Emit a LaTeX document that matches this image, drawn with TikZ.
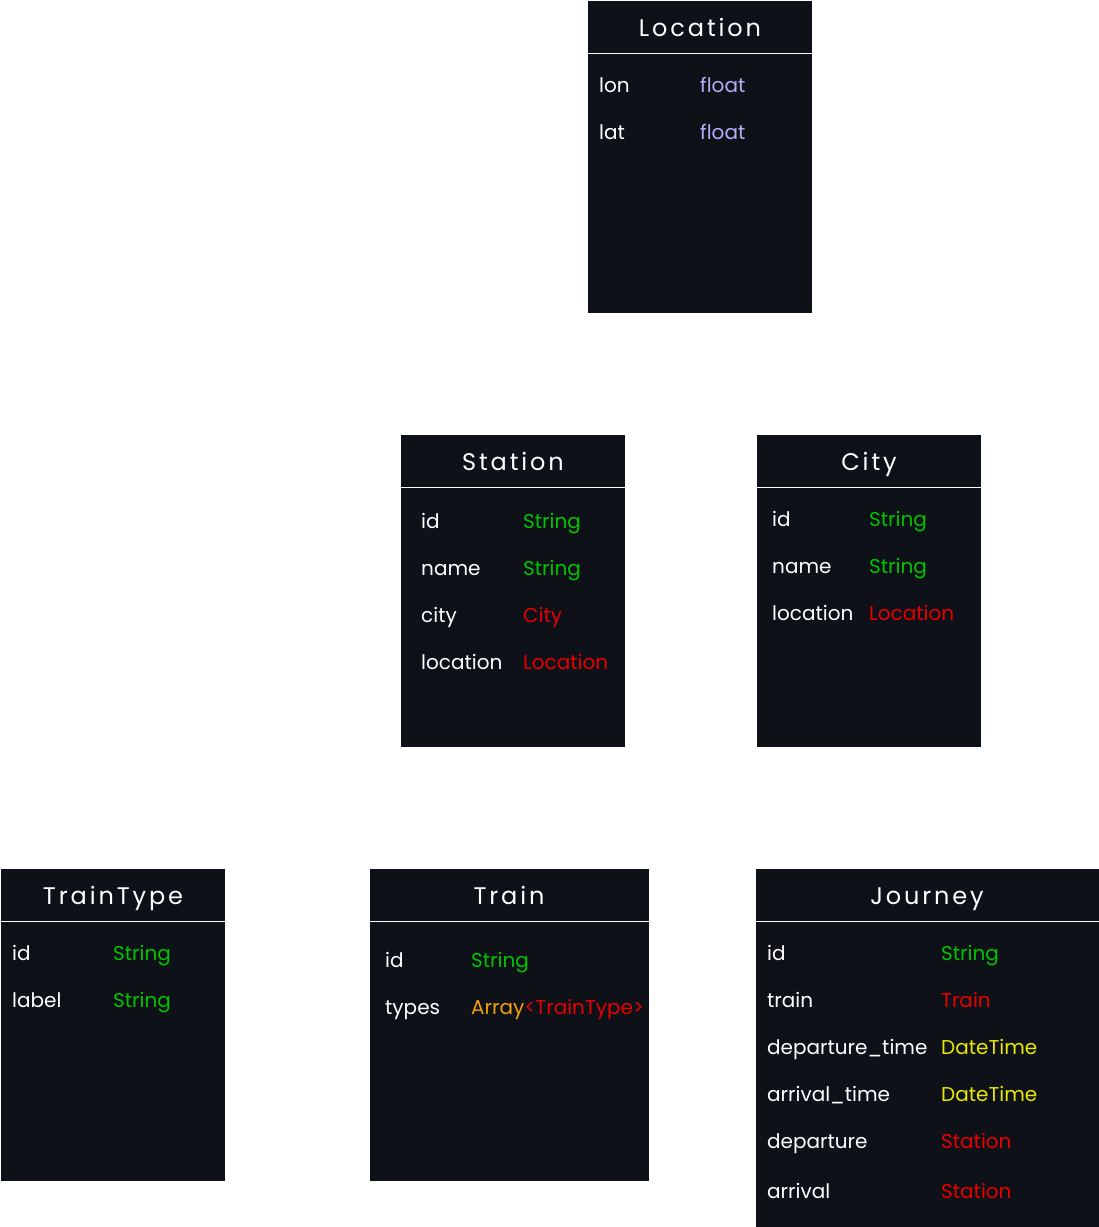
\documentclass[tikz,border=0pt]{standalone}
\usepackage{fontspec}
\setmainfont{Poppins}
\newfontfamily\titlefont[LetterSpace=12]{Poppins}
\definecolor{bg}{HTML}{0E1118}
\definecolor{strc}{HTML}{00C400}
\definecolor{refc}{HTML}{E80000}
\definecolor{fltc}{HTML}{B4ACF4}
\definecolor{datec}{HTML}{E8E800}
\definecolor{arrc}{HTML}{F4A000}
\begin{document}
\begin{tikzpicture}[x=1pt,y=-1pt,
  box/.style={fill=bg, draw=none, inner sep=0pt, outer sep=0pt, anchor=north west},
  ttl/.style={text=white, font=\titlefont\fontsize{24}{28}\selectfont, anchor=base, inner sep=0pt},
  fld/.style={text=white, font=\fontsize{20}{24}\selectfont, anchor=mid west, inner sep=0pt},
  typ/.style={fld, text=#1},
  sep/.style={draw=white, line width=1pt}]
\useasboundingbox (0,0) rectangle (1099,1227);
% Location
\node[box, minimum width=224pt, minimum height=312pt] (loc) at (588,1) {};
\node[ttl] (locT) at (700,36) {Location};
\draw[sep] (588,53) -- (812,53);
\node[fld] (locN1) at (599,90) {lon};   \node[typ=fltc] (locT1) at (700,90) {float};
\node[fld] (locN2) at (599,137) {lat};  \node[typ=fltc] (locT2) at (700,137) {float};
% Station
\node[box, minimum width=224pt, minimum height=312pt] (sta) at (401,435) {};
\node[ttl] (staT) at (513,470) {Station};
\draw[sep] (401,487) -- (625,487);
\node[fld] (staN1) at (421,526) {id};       \node[typ=strc] (staT1) at (523,526) {String};
\node[fld] (staN2) at (421,573) {name};     \node[typ=strc] (staT2) at (523,573) {String};
\node[fld] (staN3) at (421,620) {city};     \node[typ=refc] (staT3) at (523,620) {City};
\node[fld] (staN4) at (421,667) {location}; \node[typ=refc] (staT4) at (523,667) {Location};
% City
\node[box, minimum width=224pt, minimum height=312pt] (cty) at (757,435) {};
\node[ttl] (ctyT) at (869,470) {City};
\draw[sep] (757,487) -- (981,487);
\node[fld] (ctyN1) at (772,524) {id};       \node[typ=strc] (ctyT1) at (869,524) {String};
\node[fld] (ctyN2) at (772,571) {name};     \node[typ=strc] (ctyT2) at (869,571) {String};
\node[fld] (ctyN3) at (772,618) {location}; \node[typ=refc] (ctyT3) at (869,618) {Location};
% TrainType
\node[box, minimum width=224pt, minimum height=312pt] (tt) at (1,869) {};
\node[ttl] (ttT) at (113,904) {TrainType};
\draw[sep] (1,921) -- (225,921);
\node[fld] (ttN1) at (12,958) {id};     \node[typ=strc] (ttT1) at (113,958) {String};
\node[fld] (ttN2) at (12,1005) {label}; \node[typ=strc] (ttT2) at (113,1005) {String};
% Train
\node[box, minimum width=279pt, minimum height=312pt] (trn) at (370,869) {};
\node[ttl] (trnT) at (509,904) {Train};
\draw[sep] (370,921) -- (649,921);
\node[fld] (trnN1) at (385,965) {id};    \node[typ=strc] (trnT1) at (471,965) {String};
\node[fld] (trnN2) at (385,1012) {types};
\node[fld] (trnT2) at (471,1012) {\textcolor{arrc}{Array}\textcolor{refc}{<TrainType>}};
% Journey
\node[box, minimum width=343pt, minimum height=358pt] (jrn) at (756,869) {};
\node[ttl] (jrnT) at (927,904) {Journey};
\draw[sep] (756,921) -- (1099,921);
\node[fld] (jrnN1) at (767,958) {id};             \node[typ=strc] (jrnT1) at (941,958) {String};
\node[fld] (jrnN2) at (767,1005) {train};         \node[typ=refc] (jrnT2) at (941,1005) {Train};
\node[fld] (jrnN3) at (767,1052) {departure\_time}; \node[typ=datec] (jrnT3) at (941,1052) {DateTime};
\node[fld] (jrnN4) at (767,1099) {arrival\_time}; \node[typ=datec] (jrnT4) at (941,1099) {DateTime};
\node[fld] (jrnN5) at (767,1146) {departure};     \node[typ=refc] (jrnT5) at (941,1146) {Station};
\node[fld] (jrnN6) at (767,1196) {arrival};       \node[typ=refc] (jrnT6) at (941,1196) {Station};
\end{tikzpicture}
\end{document}
